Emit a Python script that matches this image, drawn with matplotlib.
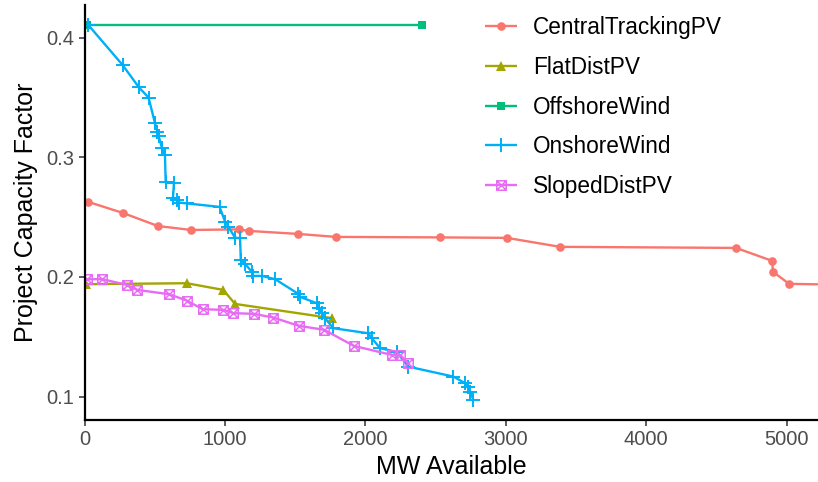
import matplotlib
matplotlib.use("Agg")
import matplotlib.pyplot as plt
from matplotlib.path import Path

plt.rcParams['font.family'] = ['Liberation Sans', 'DejaVu Sans']

# ---- data ----
series_names = ["CentralTrackingPV", "FlatDistPV", "OffshoreWind", "OnshoreWind", "SlopedDistPV"]

central_mw = [28, 274, 523, 759, 1100, 1172, 1521, 1791, 2532, 3009, 3387, 4640, 4897, 4904, 5018, 5400]
central_cf = [0.2627, 0.2535, 0.2426, 0.2393, 0.2398, 0.2385, 0.2360, 0.2335, 0.2331, 0.2327,
              0.2252, 0.2243, 0.2135, 0.2043, 0.1943, 0.1935]

flat_mw = [12, 728, 989, 1072, 1761]
flat_cf = [0.1940, 0.1948, 0.1892, 0.1775, 0.1656]

offshore_mw = [20, 2404]
offshore_cf = [0.4110, 0.4110]

onshore_mw = [27, 271, 388, 456, 502, 519, 528, 552, 573, 578, 637, 630, 657, 675, 728, 962,
              1001, 1024, 1072, 1108, 1113, 1143, 1191, 1202, 1262, 1357, 1523, 1535, 1654,
              1672, 1689, 1713, 1772, 2021, 2046, 2105, 2224, 2306, 2627, 2710, 2734, 2746, 2769]
onshore_cf = [0.4106, 0.3772, 0.3584, 0.3500, 0.3285, 0.3212, 0.3179, 0.3076, 0.3020, 0.2797,
              0.2784, 0.2658, 0.2640, 0.2622, 0.2615, 0.2586, 0.2463, 0.2421, 0.2329, 0.2324,
              0.2143, 0.2109, 0.2045, 0.2009, 0.2009, 0.1982, 0.1859, 0.1834, 0.1781, 0.1739,
              0.1700, 0.1656, 0.1572, 0.1530, 0.1489, 0.1405, 0.1374, 0.1251, 0.1168, 0.1113,
              0.1084, 0.1043, 0.0974]

sloped_mw = [16, 127, 301, 376, 604, 728, 842, 989, 1060, 1207, 1345, 1526, 1706, 1919, 2188, 2247, 2306]
sloped_cf = [0.1982, 0.1982, 0.1934, 0.1892, 0.1856, 0.1803, 0.1731, 0.1725, 0.1698, 0.1692,
             0.1661, 0.1592, 0.1559, 0.1424, 0.1349, 0.1349, 0.1280]

x_ticks = [0, 1000, 2000, 3000, 4000, 5000]
y_ticks = [0.1, 0.2, 0.3, 0.4]

# ---- styling ----
colors = ["#F8766D", "#A3A500", "#00BF7D", "#00B0F6", "#E76BF3"]

box_x = Path([(-1, -1), (1, -1), (1, 1), (-1, 1), (-1, -1),
              (-1, -1), (1, 1), (1, -1), (-1, 1)],
             [Path.MOVETO, Path.LINETO, Path.LINETO, Path.LINETO, Path.CLOSEPOLY,
              Path.MOVETO, Path.LINETO, Path.MOVETO, Path.LINETO])

styles = [
    dict(marker='o', markersize=6.2, markeredgewidth=0),
    dict(marker='^', markersize=7.5, markeredgewidth=0),
    dict(marker='s', markersize=6.0, markeredgewidth=0),
    dict(marker='+', markersize=10.5, markeredgewidth=1.4),
    dict(marker=box_x, markersize=6.8, markerfacecolor='none', markeredgewidth=1.1),
]

data = [(central_mw, central_cf), (flat_mw, flat_cf), (offshore_mw, offshore_cf),
        (onshore_mw, onshore_cf), (sloped_mw, sloped_cf)]

fig = plt.figure(figsize=(8.18, 4.82), dpi=100)
W, H = 818, 482
ax = fig.add_axes([84.5 / W, (H - 420) / H, (818 - 84.5) / W, (420 - 5) / H])

handles = []
for name, (xs, ys), col, st in zip(series_names, data, colors, styles):
    h, = ax.plot(xs, ys, color=col, linewidth=1.7, markeredgecolor=col,
                 label=name, solid_capstyle='butt', **st)
    handles.append(h)

ax.set_xlim(0, 5224)
ax.set_ylim(0.0805, 0.4273)
ax.set_xticks(x_ticks)
ax.set_xticklabels([str(v) for v in x_ticks])
ax.set_yticks(y_ticks)
ax.set_yticklabels([f"{v:.1f}" for v in y_ticks])

for s in ['top', 'right']:
    ax.spines[s].set_visible(False)
for s in ['left', 'bottom']:
    ax.spines[s].set_linewidth(1.6)
    ax.spines[s].set_color('black')

ax.tick_params(axis='both', length=4, width=1.1, color='#333333',
               labelsize=14.5, labelcolor='#4D4D4D', pad=3.5)

ax.set_xlabel("MW Available", fontsize=18, color='black', labelpad=4)
ax.set_ylabel("Project Capacity Factor", fontsize=18, color='black', labelpad=6)

leg = ax.legend(handles=handles, loc='upper left',
                bbox_to_anchor=(485 / W, (H - 16) / H), bbox_transform=fig.transFigure,
                frameon=False, fontsize=16.3, handlelength=1.42, handletextpad=0.7,
                labelspacing=0.74, borderpad=0, borderaxespad=0)

fig.savefig("out.png", dpi=100)
